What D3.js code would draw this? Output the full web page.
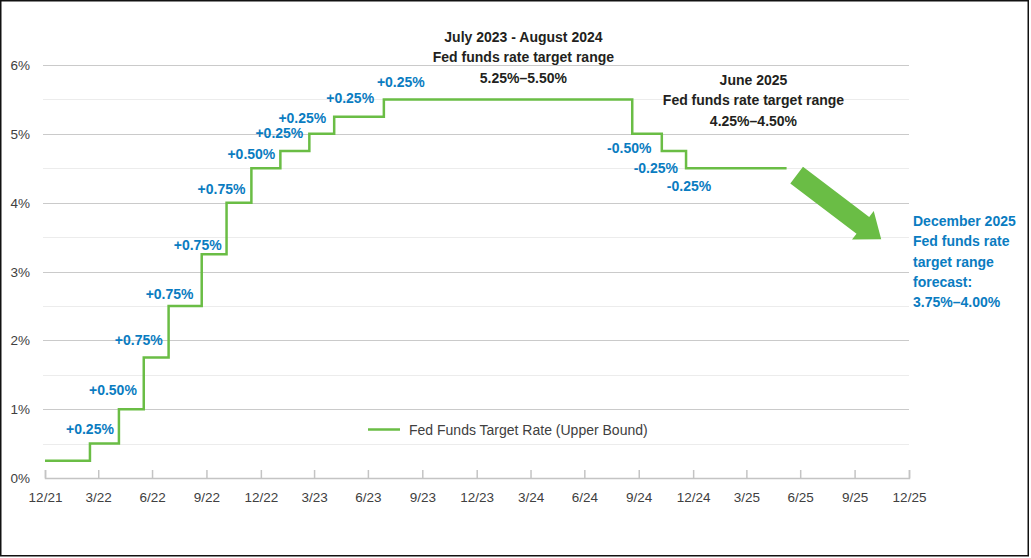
<!DOCTYPE html>
<html>
<head>
<meta charset="utf-8">
<script src="https://cdn.jsdelivr.net/npm/d3@7"></script>
<style>
  html, body { margin: 0; padding: 0; background: #fff; }
  svg { display: block; font-family: "Liberation Sans", Arial, sans-serif; }
</style>
</head>
<body>
<svg id="chart" width="1031" height="558"></svg>
<script>
// fed funds upper bound, step chart

var rateDates = ["2021-12-31","2022-03-17","2022-05-05","2022-06-16","2022-07-28","2022-09-22","2022-11-03","2022-12-15","2023-02-02","2023-03-23","2023-05-04","2023-07-27","2024-09-19","2024-11-08","2024-12-19","2025-06-07"]
var rateUpper = [0.25, 0.5, 1.0, 1.75, 2.5, 3.25, 4.0, 4.5, 4.75, 5.0, 5.25, 5.5, 5.0, 4.75, 4.5, 4.5]

// label for each move (move i = rateDates[i+1])
var moveLabels = ["+0.25%","+0.50%","+0.75%","+0.75%","+0.75%","+0.75%","+0.50%","+0.25%","+0.25%","+0.25%","+0.25%","-0.50%","-0.25%","-0.25%"]

var tickDates = ["2021-12-31","2022-03-31","2022-06-30","2022-09-30","2022-12-31","2023-03-31","2023-06-30","2023-09-30","2023-12-31","2024-03-31","2024-06-30","2024-09-30","2024-12-31","2025-03-31","2025-06-30","2025-09-30","2025-12-31"]
var tickLabels = ["12/21","3/22","6/22","9/22","12/22","3/23","6/23","9/23","12/23","3/24","6/24","9/24","12/24","3/25","6/25","9/25","12/25"]
var yTicks = [0, 1, 2, 3, 4, 5, 6]
var yLabels = ["0%","1%","2%","3%","4%","5%","6%"]

// forecast arrow, in data units (date, rate)
var arrowFrom = ["2025-06-24", 4.40]
var arrowTo = ["2025-11-14", 3.47]

// label nudges (pixels) relative to riser / new level
var labelDx = [0, -6, -5, 1, -4, -5, 0, -1, -7, 16, 17, -3, -6, 3]
var labelDy = [-15, -19, -18, -12, -9, -14, -14, -18, -16, -19, -17, 14, 17, 18]

var parse = d3.timeParse("%Y-%m-%d")
var green = "#6abd45"
var blue = "#0a7cc1"
var dark = "#231f20"
var grey = "#404040"

var svg = d3.select("#chart")

var x = d3.scaleTime().domain([parse("2021-12-31"), parse("2025-12-31")]).range([45, 909])
var y = d3.scaleLinear().domain([0, 6]).range([478, 65])

// frame
svg.append("rect").attr("x", 0.75).attr("y", 0.75).attr("width", 1027.5).attr("height", 555)
  .attr("fill", "none").attr("stroke", "#111").attr("stroke-width", 1.5)

// gridlines (half percent light, full percent darker)
var grid = svg.append("g")
var halfs = d3.range(1, 13).map(function(d){ return d / 2 })
grid.selectAll("line").data(halfs).enter().append("line")
  .attr("x1", 43).attr("x2", 909)
  .attr("y1", function(d){ return Math.round(y(d)) + 0.5 })
  .attr("y2", function(d){ return Math.round(y(d)) + 0.5 })
  .attr("stroke", function(d){ return d % 1 === 0 ? "#cacaca" : "#ececec" })
  .attr("stroke-width", 1.2)

// y labels
svg.append("g").selectAll("text").data(yTicks).enter().append("text")
  .attr("x", 30)
  .attr("y", function(d){ return y(d) + 5 })
  .attr("text-anchor", "end")
  .style("font-size", "13.5px")
  .style("fill", grey)
  .text(function(d, i){ return yLabels[i] })

// x axis
var xAxis = d3.axisBottom(x)
  .tickValues(tickDates.map(parse))
  .tickSize(-8)
  .tickFormat(function(d, i){ return tickLabels[i] })
var gx = svg.append("g").attr("transform", "translate(0," + y(0) + ")").call(xAxis)
gx.select(".domain").attr("stroke", "#c4c4c4").attr("stroke-width", 1.5)
gx.selectAll(".tick line").attr("stroke", "#c4c4c4").attr("stroke-width", 1.5)
gx.selectAll(".tick text").attr("y", 14).attr("dy", "0.71em")
  .style("font-size", "13.5px").style("fill", grey)
  .style("font-family", "\"Liberation Sans\", Arial, sans-serif")

// the step line
var pts = rateDates.map(function(d, i){ return [parse(d), rateUpper[i]] })
var line = d3.line().x(function(d){ return x(d[0]) }).y(function(d){ return y(d[1]) }).curve(d3.curveStepAfter)
svg.append("path").datum(pts).attr("d", line)
  .attr("fill", "none").attr("stroke", green).attr("stroke-width", 2.5)

// move labels
svg.append("g").selectAll("text").data(moveLabels).enter().append("text")
  .attr("x", function(d, i){ return x(parse(rateDates[i + 1])) + labelDx[i] })
  .attr("y", function(d, i){ return y(rateUpper[i + 1]) + labelDy[i] + 5 })
  .attr("text-anchor", "middle")
  .style("font-size", "14px").style("font-weight", "bold").style("fill", blue)
  .text(function(d){ return d })

// text blocks
function block(lines, xpos, ypos, anchor, color) {
  var t = svg.append("text").attr("text-anchor", anchor)
    .style("font-size", "14px").style("font-weight", "bold").style("fill", color)
  lines.forEach(function(s, i){
    t.append("tspan").attr("x", xpos).attr("y", ypos + i * 20.3).text(s)
  })
}
block(["July 2023 - August 2024", "Fed funds rate target range", "5.25%\u20135.50%"], x(parse("2024-03-19")), 42, "middle", dark)
block(["June 2025", "Fed funds rate target range", "4.25%\u20134.50%"], x(parse("2025-04-12")), 85, "middle", dark)
block(["December 2025", "Fed funds rate", "target range", "forecast:", "3.75%\u20134.00%"], 913, 226, "start", blue)

// arrow
var ax0 = x(parse(arrowFrom[0])), ay0 = y(arrowFrom[1])
var ax1 = x(parse(arrowTo[0])), ay1 = y(arrowTo[1])
var len = Math.hypot(ax1 - ax0, ay1 - ay0)
var ang = Math.atan2(ay1 - ay0, ax1 - ax0) * 180 / Math.PI
var headL = 23, shaftW = 10.5, headW = 18
svg.append("path")
  .attr("transform", "translate(" + ax0 + "," + ay0 + ") rotate(" + ang + ")")
  .attr("d", "M0," + (-shaftW) + "L" + (len - headL) + "," + (-shaftW) + "L" + (len - headL) + "," + (-headW) +
    "L" + len + ",0L" + (len - headL) + "," + headW + "L" + (len - headL) + "," + shaftW + "L0," + shaftW + "Z")
  .attr("fill", green)

// legend
var leg = svg.append("g")
leg.append("line").attr("x1", 368).attr("x2", 400).attr("y1", 429.5).attr("y2", 429.5)
  .attr("stroke", green).attr("stroke-width", 2.5)
leg.append("text").attr("x", 409).attr("y", 434.5)
  .style("font-size", "14px").style("fill", grey)
  .text("Fed Funds Target Rate (Upper Bound)")
</script>
</body>
</html>
